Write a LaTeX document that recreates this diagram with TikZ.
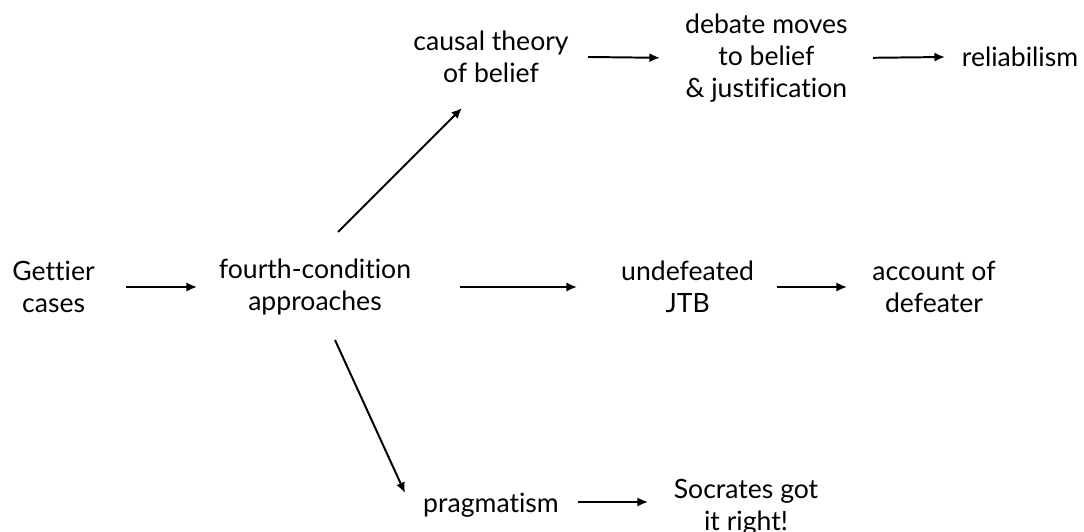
\documentclass[tikz,border=0pt]{standalone}
\usepackage{fontspec}
\setmainfont{Lato}[Ligatures=NoCommon]
\usetikzlibrary{arrows.meta}
\tikzstyle{idea} = [align=center, inner sep=0pt, font=\fontsize{18.9}{22.7}\selectfont]
\tikzstyle{arrow} = [line width=1.4pt, -{Latex[length=7.5pt,width=6.5pt]}]

\begin{document}
\begin{tikzpicture}
\useasboundingbox (0,0) rectangle (27.1,13.275);
\node (gettier) [idea] at (1.34,6.1) {Gettier\\cases};
\node (fourth) [idea] at (7.875,6.1) {fourth-condition\\approaches};
\node (causal) [idea] at (12.275,11.85) {causal theory\\of belief};
\node (debate) [idea] at (19.16,11.83) {debate moves\\to belief\\\& justification};
\node (reliab) [idea] at (25.5,11.85) {reliabilism};
\node (undef) [idea] at (17.19,6.1) {undefeated\\JTB};
\node (account) [idea] at (23.35,6.1) {account of\\defeater};
\node (pragm) [idea] at (12.275,0.65) {pragmatism};
\node (socrates) [idea] at (18.65,0.6) {Socrates got\\it right!};

\draw[arrow] ([xshift=1.81cm]gettier.center) -- ([xshift=-2.95cm]fourth.center);
\draw[arrow] ([xshift=3.625cm]fourth.center) -- ([xshift=-2.765cm]undef.center);
\draw[arrow] ([xshift=2.235cm]undef.center) -- ([xshift=-2.175cm]account.center);
\draw[arrow] ([shift={(0.575,1.375)}]fourth.center) -- ([shift={(-0.725,-1.275)}]causal.center);
\draw[arrow] ([shift={(0.5,-1.325)}]fourth.center) -- ([shift={(-2.15,0.3)}]pragm.center);

\draw[arrow] ([xshift=2.425cm]causal.center) -- ([xshift=-2.66cm]debate.center);
\draw[arrow] ([xshift=2.665cm]debate.center) -- ([xshift=-1.875cm]reliab.center);
\draw[arrow] ([shift={(2.175,0.075)}]pragm.center) -- ([shift={(-2.45,0.125)}]socrates.center);
\end{tikzpicture}
\end{document}
